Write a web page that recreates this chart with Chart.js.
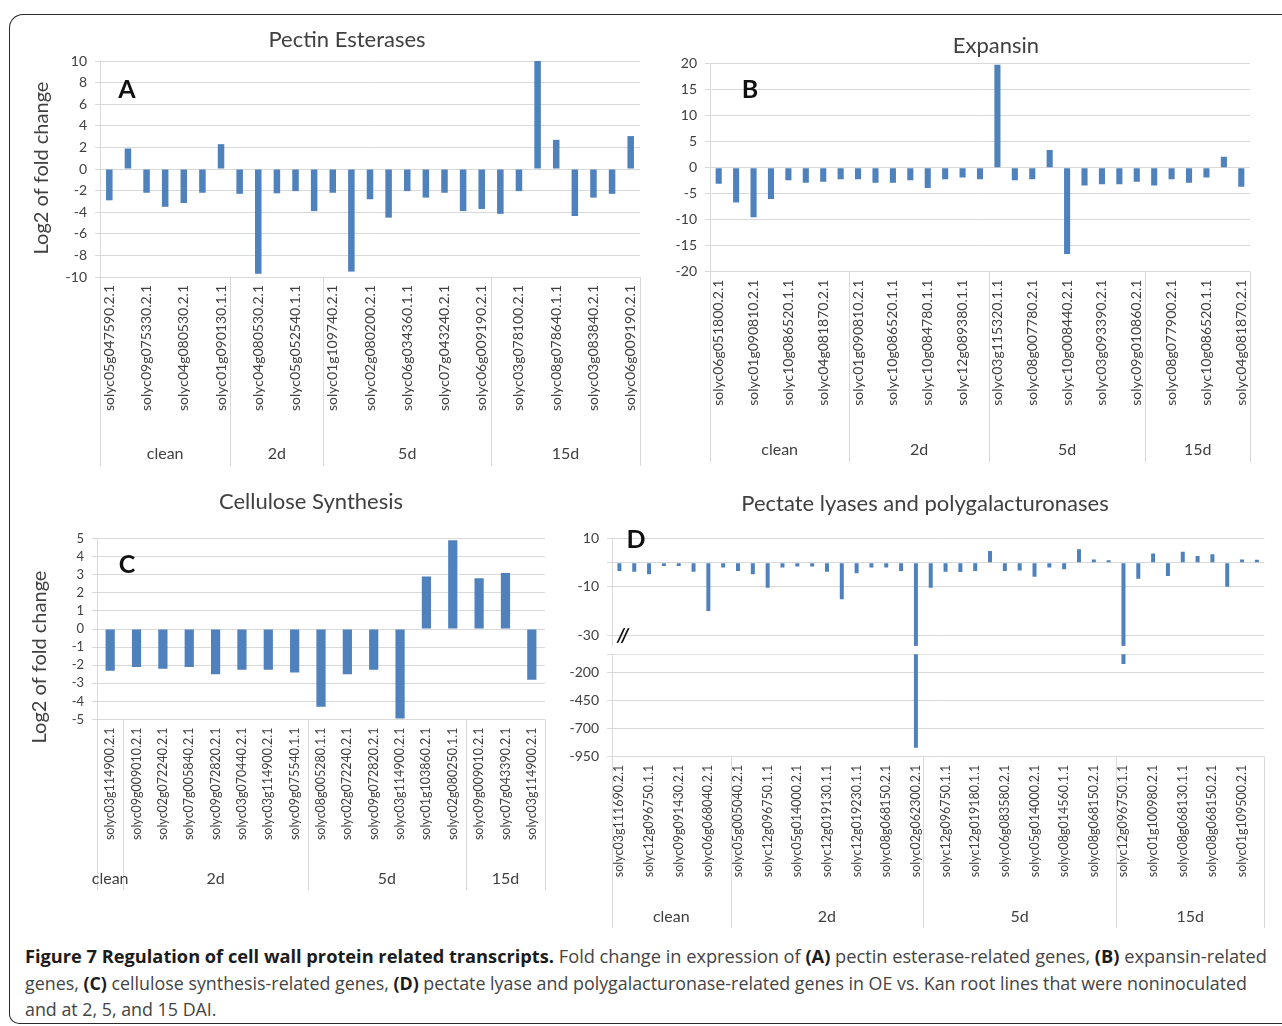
<!DOCTYPE html>
<html>
<head>
<meta charset="utf-8">
<script src="https://cdn.jsdelivr.net/npm/chart.js@4.4.1/dist/chart.umd.min.js"></script>
<style>
  html, body { margin: 0; padding: 0; background: #fff; }
  body { width: 1282px; height: 1026px; position: relative; overflow: hidden; font-family: "Open Sans", sans-serif; }
  .frame { position: absolute; left: 9px; top: 14px; width: 1300px; height: 1008px; border: 1.5px solid #2b2b2b; border-right: none; border-radius: 14px 0 0 10px; }
  canvas { position: absolute; }
  .cap { position: absolute; left: 25px; font-size: 18px; line-height: 26px; color: #444; white-space: nowrap; transform-origin: 0 50%; }
  .cap b { color: #1c1c1c; }
</style>
</head>
<body>
<div class="frame"></div>
<canvas id="chartA" width="646" height="452" style="left:14px;top:22px"></canvas>
<canvas id="chartB" width="620" height="452" style="left:660px;top:22px"></canvas>
<canvas id="chartC" width="546" height="450" style="left:14px;top:480px"></canvas>
<canvas id="chartD" width="720" height="455" style="left:560px;top:480px"></canvas>

<div class="cap" id="cap1" style="top:943px"><b>Figure 7 Regulation of cell wall protein related transcripts.</b> Fold change in expression of <b>(A)</b> pectin esterase-related genes, <b>(B)</b> expansin-related</div>
<div class="cap" id="cap2" style="top:970px">genes, <b>(C)</b> cellulose synthesis-related genes, <b>(D)</b> pectate lyase and polygalacturonase-related genes in OE vs. Kan root lines that were noninoculated</div>
<div class="cap" id="cap3" style="top:996px">and at 2, 5, and 15 DAI.</div>

<script>
const barBlue = "#4f81bd";
const gridGrey = "#d9d9d9";
const inkGrey = "#404040";

const groupNames = ["clean", "2d", "5d", "15d"];

// A - pectin esterases (only every other gene name is printed on the axis)
const aGenes = ["solyc05g047590.2.1", "", "solyc09g075330.2.1", "", "solyc04g080530.2.1", "", "solyc01g090130.1.1", "",
  "solyc04g080530.2.1", "", "solyc05g052540.1.1", "", "solyc01g109740.2.1", "", "solyc02g080200.2.1", "",
  "solyc06g034360.1.1", "", "solyc07g043240.2.1", "", "solyc06g009190.2.1", "", "solyc03g078100.2.1", "",
  "solyc08g078640.1.1", "", "solyc03g083840.2.1", "", "solyc06g009190.2.1"];
const aValues = [-2.9, 1.9, -2.2, -3.5, -3.15, -2.2, 2.3, -2.3, -9.7, -2.25, -2.05, -3.9, -2.2, -9.5, -2.8,
  -4.5, -2.05, -2.65, -2.2, -3.9, -3.7, -4.15, -2.05, 10.2, 2.7, -4.35, -2.65, -2.3, 3.05];
const aGroupSizes = [7, 5, 9, 8];

// B - expansin
const bGenes = ["solyc06g051800.2.1", "", "solyc01g090810.2.1", "", "solyc10g086520.1.1", "", "solyc04g081870.2.1", "",
  "solyc01g090810.2.1", "", "solyc10g086520.1.1", "", "solyc10g084780.1.1", "", "solyc12g089380.1.1", "",
  "solyc03g115320.1.1", "", "solyc08g007780.2.1", "", "solyc10g008440.2.1", "", "solyc03g093390.2.1", "",
  "solyc09g010860.2.1", "", "solyc08g077900.2.1", "", "solyc10g086520.1.1", "", "solyc04g081870.2.1"];
const bValues = [-3.1, -6.7, -9.55, -6.0, -2.4, -2.9, -2.7, -2.2, -2.2, -2.9, -2.9, -2.4, -3.9, -2.2, -1.9, -2.2,
  19.8, -2.4, -2.2, 3.4, -16.6, -3.4, -3.2, -3.2, -2.7, -3.4, -2.2, -2.9, -1.9, 2.1, -3.65];
const bGroupSizes = [8, 8, 9, 6];

// C - cellulose synthesis
const cGenes = ["solyc03g114900.2.1", "solyc09g009010.2.1", "solyc02g072240.2.1", "solyc07g005840.2.1",
  "solyc09g072820.2.1", "solyc03g070440.2.1", "solyc03g114900.2.1", "solyc09g075540.1.1", "solyc08g005280.1.1",
  "solyc02g072240.2.1", "solyc09g072820.2.1", "solyc03g114900.2.1", "solyc01g103860.2.1", "solyc02g080250.1.1",
  "solyc09g009010.2.1", "solyc07g043390.2.1", "solyc03g114900.2.1"];
const cValues = [-2.3, -2.1, -2.2, -2.1, -2.5, -2.25, -2.25, -2.4, -4.3, -2.5, -2.25, -4.95, 2.9, 4.9, 2.8, 3.1, -2.8];
const cGroupSizes = [1, 7, 6, 3];

// D - pectate lyases and polygalacturonases (broken value axis)
const dGenes = ["solyc03g111690.2.1", "", "solyc12g096750.1.1", "", "solyc09g091430.2.1", "", "solyc06g068040.2.1", "",
  "solyc05g005040.2.1", "", "solyc12g096750.1.1", "", "solyc05g014000.2.1", "", "solyc12g019130.1.1", "",
  "solyc12g019230.1.1", "", "solyc08g068150.2.1", "", "solyc02g062300.2.1",
  "", "solyc12g096750.1.1", "", "solyc12g019180.1.1", "", "solyc06g083580.2.1", "", "solyc05g014000.2.1", "",
  "solyc08g014560.1.1", "", "solyc08g068150.2.1", "",
  "solyc12g096750.1.1", "", "solyc01g100980.2.1", "", "solyc08g068130.1.1", "", "solyc08g068150.2.1", "",
  "solyc01g109500.2.1", ""];
const dValues = [-3.4, -3.7, -4.8, -1.4, -1.4, -3.7, -19.9, -2.0,
  -3.4, -4.8, -10.3, -2.0, -1.6, -1.6, -3.7, -15.0, -4.4, -2.0, -2.0, -3.4, -870,
  -10.3, -3.7, -3.8, -3.4, 4.8, -3.4, -3.2, -5.8, -2.0, -2.7, 5.5, 1.3, 1.0,
  -126, -6.6, 3.8, -5.5, 4.5, 2.7, 3.4, -9.9, 1.3, 1.2];
const dGroupSizes = [8, 13, 13, 10];
const dTicks = [-950, -700, -450, -200, -46, -30, -10, 0, 10];
const dTickLabels = [10, -10, -30, -200, -450, -700, -950];

// piecewise value axis: upper part 10..-34, gap, lower part -46..-950
const breakValues = [10, -34, -46, -950];
const breakFracs = [0, 0.4904, 0.5343, 1];

class BrokenScale extends Chart.LinearScale {
  buildTicks() {
    this.start = this.min;
    this.end = this.max;
    return dTicks.map((v) => ({ value: v }));
  }
  fracOf(v) {
    const vs = breakValues, fs = breakFracs;
    for (let i = 0; i < vs.length - 1; i++) {
      if (v >= vs[i + 1] || i === vs.length - 2) {
        return fs[i] + ((vs[i] - v) / (vs[i] - vs[i + 1])) * (fs[i + 1] - fs[i]);
      }
    }
    return 1;
  }
  getPixelForValue(v) {
    if (v === null || v === undefined || isNaN(v)) return NaN;
    return this.getPixelForDecimal(1 - this.fracOf(v));
  }
  getValueForPixel(p) {
    const f = 1 - this.getDecimalForPixel(p);
    const vs = breakValues, fs = breakFracs;
    for (let i = 0; i < fs.length - 1; i++) {
      if (f <= fs[i + 1] || i === fs.length - 2) {
        return vs[i] - ((f - fs[i]) / (fs[i + 1] - fs[i])) * (vs[i] - vs[i + 1]);
      }
    }
    return vs[vs.length - 1];
  }
}
BrokenScale.id = "broken";
BrokenScale.defaults = Chart.LinearScale.defaults;
Chart.register(BrokenScale);

// titles, panel letters, group dividers and names under the category axis
const decor = {
  id: "decor",
  afterDatasetsDraw(chart, args, o) {
    if (!o.gap) return;
    const y = chart.scales.y, a = chart.chartArea, ctx = chart.ctx;
    const top = y.getPixelForValue(o.gap[0]) + 0.5;
    const bot = y.getPixelForValue(o.gap[1]) - 0.8;
    ctx.save();
    ctx.fillStyle = "#fff";
    ctx.fillRect(a.left, top, a.right - a.left, bot - top);
    ctx.restore();
  },
  afterDraw(chart, args, o) {
    const ctx = chart.ctx, a = chart.chartArea, x = chart.scales.x;
    const ox = o.at[0], oy = o.at[1];
    const n = chart.data.labels.length;
    ctx.save();

    const bounds = [a.left];
    let count = 0;
    o.sizes.forEach((s) => {
      count += s;
      bounds.push(count >= n ? a.right : (x.getPixelForValue(count - 1) + x.getPixelForValue(count)) / 2);
    });
    ctx.strokeStyle = gridGrey;
    ctx.lineWidth = 1;
    bounds.forEach((bx) => {
      const px = Math.round(bx) + 0.5;
      ctx.beginPath();
      ctx.moveTo(px, a.bottom);
      ctx.lineTo(px, o.divEnd - oy);
      ctx.stroke();
    });

    ctx.fillStyle = inkGrey;
    ctx.textAlign = "center";
    ctx.textBaseline = "middle";
    ctx.font = "16px Lato";
    groupNames.forEach((g, i) => ctx.fillText(g, (bounds[i] + bounds[i + 1]) / 2, o.groupY - oy));

    ctx.font = "22px Lato";
    ctx.fillText(o.title, o.titleAt[0] - ox, o.titleAt[1] - oy);

    ctx.fillStyle = "#111";
    ctx.font = "bold 25px Lato";
    ctx.fillText(o.letter, o.letterAt[0] - ox, o.letterAt[1] - oy);

    if (o.slashAt) {
      ctx.font = "italic bold 19px Lato";
      ctx.fillText("//", o.slashAt[0] - ox, o.slashAt[1] - oy);
    }

    if (o.yTitle) {
      ctx.fillStyle = inkGrey;
      ctx.font = "20px Lato";
      ctx.translate(o.yTitleAt[0] - ox, o.yTitleAt[1] - oy);
      ctx.rotate(-Math.PI / 2);
      ctx.fillText(o.yTitle, 0, 0);
    }
    ctx.restore();
  },
};

function makePanel(id, p) {
  const yScale = {
    type: p.yType || "linear",
    min: p.min,
    max: p.max,
    ticks: { stepSize: p.step, autoSkip: false, padding: 8, color: inkGrey, font: { family: "Lato", size: p.yFont || 14 } },
    grid: { color: gridGrey, tickLength: 5 },
    border: { color: gridGrey },
    afterFit: (s) => { s.width = p.yW; },
  };
  if (p.tickCb) yScale.ticks.callback = p.tickCb;

  return new Chart(document.getElementById(id), {
    type: "bar",
    data: {
      labels: p.labels,
      datasets: [{ data: p.values, backgroundColor: barBlue, barPercentage: p.barPct, categoryPercentage: 1 }],
    },
    options: {
      responsive: false,
      animation: false,
      devicePixelRatio: 1,
      layout: { padding: p.pad },
      plugins: { legend: { display: false }, tooltip: { enabled: false }, decor: p.decor },
      scales: {
        x: {
          grid: { display: false, drawTicks: false },
          border: { display: false },
          ticks: { autoSkip: false, minRotation: 90, maxRotation: 90, padding: 8, color: inkGrey, font: { family: "Lato", size: p.xFont } },
          afterFit: (s) => { s.height = p.xH; },
        },
        y: yScale,
      },
    },
    plugins: [decor],
  });
}

makePanel("chartA", {
  labels: aGenes, values: aValues, min: -10, max: 10, step: 2, barPct: 0.35, xFont: 14,
  pad: { left: 36, top: 39, right: 20, bottom: 0 }, yW: 50, xH: 197,
  decor: { at: [14, 22], sizes: aGroupSizes, groupY: 454, divEnd: 466, title: "Pectin Esterases", titleAt: [347, 40],
    letter: "A", letterAt: [127, 90], yTitle: "Log2 of fold change", yTitleAt: [42, 168] },
});

makePanel("chartB", {
  labels: bGenes, values: bValues, min: -20, max: 20, step: 5, barPct: 0.35, xFont: 14,
  pad: { left: 5, top: 41.7, right: 30, bottom: 0 }, yW: 45, xH: 202.3,
  decor: { at: [660, 22], sizes: bGroupSizes, groupY: 450, divEnd: 462, title: "Expansin", titleAt: [996, 46],
    letter: "B", letterAt: [750, 90] },
});

makePanel("chartC", {
  labels: cGenes, values: cValues, min: -5, max: 5, step: 1, barPct: 0.35, xFont: 12.5, yFont: 13,
  pad: { left: 38, top: 58.5, right: 15, bottom: 0 }, yW: 45, xH: 210.5,
  decor: { at: [14, 480], sizes: cGroupSizes, groupY: 879, divEnd: 890, title: "Cellulose Synthesis", titleAt: [311, 502],
    letter: "C", letterAt: [127, 565], yTitle: "Log2 of fold change", yTitleAt: [40, 657] },
});

makePanel("chartD", {
  labels: dGenes, values: dValues, min: -950, max: 10, yType: "broken", barPct: 0.27, xFont: 12.5,
  tickCb: (v) => (dTickLabels.includes(v) ? String(v) : ""),
  pad: { left: 4, top: 58.3, right: 10, bottom: 0 }, yW: 48, xH: 178.3,
  decor: { at: [560, 480], sizes: dGroupSizes, groupY: 917, divEnd: 928, title: "Pectate lyases and polygalacturonases", titleAt: [925, 504],
    letter: "D", letterAt: [636, 540], slashAt: [623, 636], gap: [-34, -46] },
});

// fit caption lines to the widths seen in the figure
function fitCaption() {
  const l1 = document.getElementById("cap1"), l2 = document.getElementById("cap2"), l3 = document.getElementById("cap3");
  const s1 = 1242 / l1.getBoundingClientRect().width;
  const s2 = 1222 / l2.getBoundingClientRect().width;
  l1.style.transform = `scaleX(${s1})`;
  l2.style.transform = `scaleX(${s2})`;
  l3.style.transform = `scaleX(${s2})`;
}
fitCaption();
</script>
</body>
</html>
